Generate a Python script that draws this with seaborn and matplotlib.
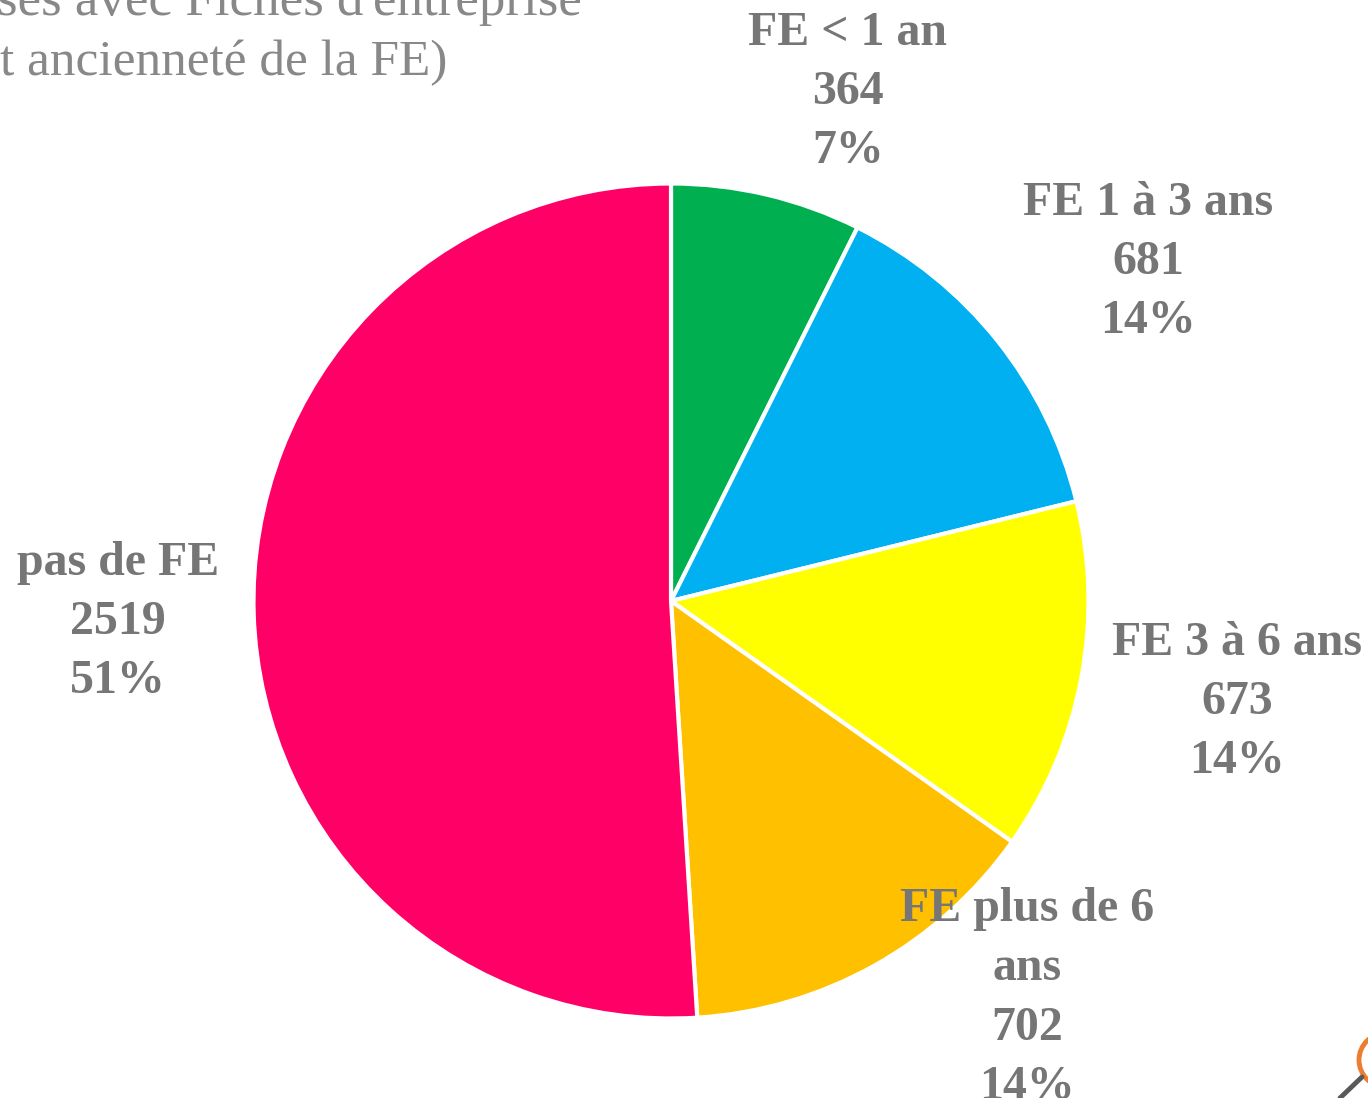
# plot.py
import matplotlib
matplotlib.use("Agg")
import matplotlib.pyplot as plt
import seaborn as sns

categories = ["FE < 1 an", "FE 1 à 3 ans", "FE 3 à 6 ans", "FE plus de 6\nans", "pas de FE"]
values = [364, 681, 673, 702, 2519]
percents = ["7%", "14%", "14%", "14%", "51%"]
colors = ["#00B050", "#00B0F0", "#FFFF00", "#FFC000", "#FF0066"]
title_lines = ["ses avec Fiches d'entreprise", "t ancienneté de la FE)"]

sns.set_theme(style="white")
plt.rcParams["font.family"] = ["Liberation Serif", "DejaVu Serif"]

W, H = 1368, 1098

fig = plt.figure(figsize=(W / 100, H / 100), dpi=100)
ax = fig.add_axes([0, 0, 1, 1])

# pie drawn with y flipped back: counterclock=True on the inverted axis reads clockwise
ax.set_ylim(H, 0)
ax.pie(values, colors=sns.color_palette(colors), center=(671, 601), radius=417.5,
       startangle=-90, counterclock=True, frame=True,
       wedgeprops={"edgecolor": "white", "linewidth": 3})
ax.set_xlim(0, W)
ax.set_ylim(H, 0)
ax.set_aspect("auto")
ax.axis("off")

# label centres, in pixels of the picture
label_pos = [(848, 92), (1148, 262), (1237, 702), (1027, 998), (118, 622)]
for cat, val, pct, (x, y) in zip(categories, values, percents, label_pos):
    ax.text(x, y, f"{cat}\n{val}\n{pct}", ha="center", va="center", color="#767676",
            fontsize=34.5, fontweight="bold", linespacing=1.45)

ax.text(582, 15, title_lines[0], ha="right", va="baseline", color="#888888", fontsize=38.2)
ax.text(447, 75, title_lines[1], ha="right", va="baseline", color="#888888", fontsize=37)

# bout de la loupe, coin bas droit
ax.add_patch(plt.Circle((1386, 1060), 27, fill=False, edgecolor="#ED7D31", linewidth=3.5))
ax.plot([1362, 1340], [1077, 1098], color="#595959", linewidth=3.5)

fig.savefig("out.png", dpi=100)
